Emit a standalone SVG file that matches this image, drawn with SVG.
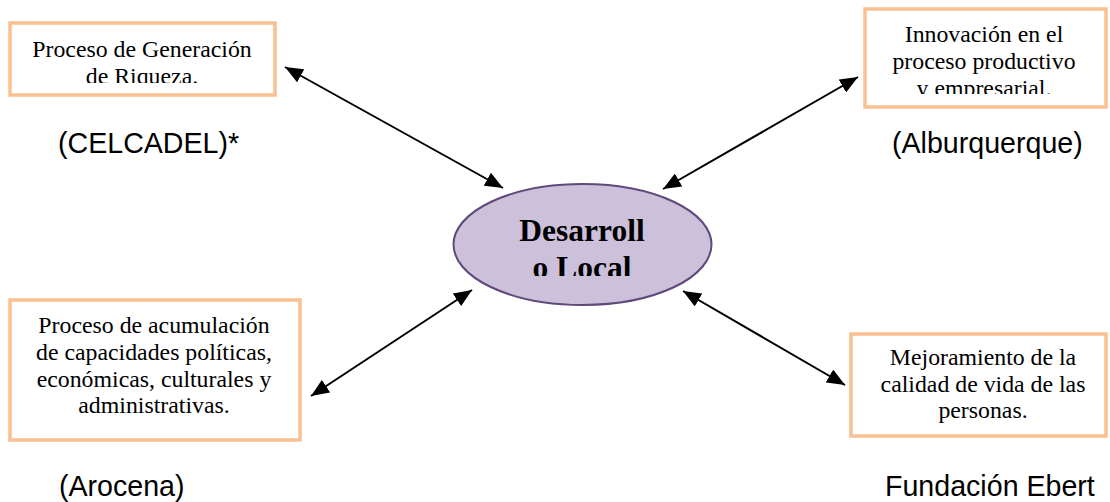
<svg xmlns="http://www.w3.org/2000/svg" width="1110" height="502" viewBox="0 0 1110 502">
  <style>
    .box { fill: #ffffff; stroke: #fac090; stroke-width: 3.5; }
    .bt { font-family: "Liberation Serif", "Times New Roman", serif; font-size: 23.8px; fill: #000000; text-anchor: middle; }
    .ct { font-family: "Liberation Serif", "Times New Roman", serif; font-size: 31.5px; font-weight: bold; fill: #000000; text-anchor: middle; }
    .lbl { font-family: "Liberation Sans", Arial, sans-serif; font-size: 28.6px; fill: #000000; }
    .conn { stroke: #000000; stroke-width: 2; fill: none; marker-start: url(#ah); marker-end: url(#ah); }
  </style>
  <defs>
    <marker id="ah" viewBox="0 0 12 10" refX="12" refY="5" markerUnits="userSpaceOnUse" markerWidth="18" markerHeight="15" orient="auto-start-reverse">
      <path d="M0,0 L12,5 L0,10 Z" fill="#000000"/>
    </marker>
    <clipPath id="c1"><rect x="10" y="23" width="265" height="60"/></clipPath>
    <clipPath id="c2"><rect x="865" y="9" width="241" height="85"/></clipPath>
    <clipPath id="c0"><rect x="453" y="184" width="259" height="92"/></clipPath>
  </defs>
  <rect width="1110" height="502" fill="#ffffff"/>

  <g id="connectors">
    <line class="conn" x1="285" y1="67" x2="503" y2="188"/>
    <line class="conn" x1="663" y1="189" x2="858" y2="77"/>
    <line class="conn" x1="472" y1="290" x2="311" y2="396"/>
    <line class="conn" x1="683" y1="291" x2="845" y2="385"/>
  </g>

  <g id="center">
    <ellipse cx="582.5" cy="244.5" rx="129" ry="60.5" fill="#ccc0da" stroke="#5f497a" stroke-width="2"/>
    <g clip-path="url(#c0)">
      <text class="ct" x="582" y="241">Desarroll</text>
      <text class="ct" x="582" y="278">o Local</text>
    </g>
  </g>

  <g id="box1">
    <rect class="box" x="10" y="23" width="265" height="72"/>
    <g clip-path="url(#c1)">
      <text class="bt" x="142" y="57">Proceso de Generación</text>
      <text class="bt" x="142" y="84">de Riqueza.</text>
    </g>
  </g>

  <g id="box2">
    <rect class="box" x="865" y="9" width="241" height="98"/>
    <g clip-path="url(#c2)">
      <text class="bt" x="984" y="42">Innovación en el</text>
      <text class="bt" x="984" y="69">proceso productivo</text>
      <text class="bt" x="984" y="96">y empresarial.</text>
    </g>
  </g>

  <g id="box3">
    <rect class="box" x="10" y="300" width="290" height="140"/>
    <text class="bt" x="154" y="333">Proceso de acumulación</text>
    <text class="bt" x="154" y="360">de capacidades políticas,</text>
    <text class="bt" x="154" y="387">económicas, culturales y</text>
    <text class="bt" x="154" y="413">administrativas.</text>
  </g>

  <g id="box4">
    <rect class="box" x="851" y="334" width="255" height="102"/>
    <text class="bt" x="983" y="365">Mejoramiento de la</text>
    <text class="bt" x="983" y="392">calidad de vida de las</text>
    <text class="bt" x="983" y="418">personas.</text>
  </g>

  <g id="labels">
    <text class="lbl" x="58" y="153">(CELCADEL)*</text>
    <text class="lbl" x="892" y="153">(Alburquerque)</text>
    <text class="lbl" x="59" y="496">(Arocena)</text>
    <text class="lbl" x="885" y="496">Fundación Ebert</text>
  </g>
</svg>
